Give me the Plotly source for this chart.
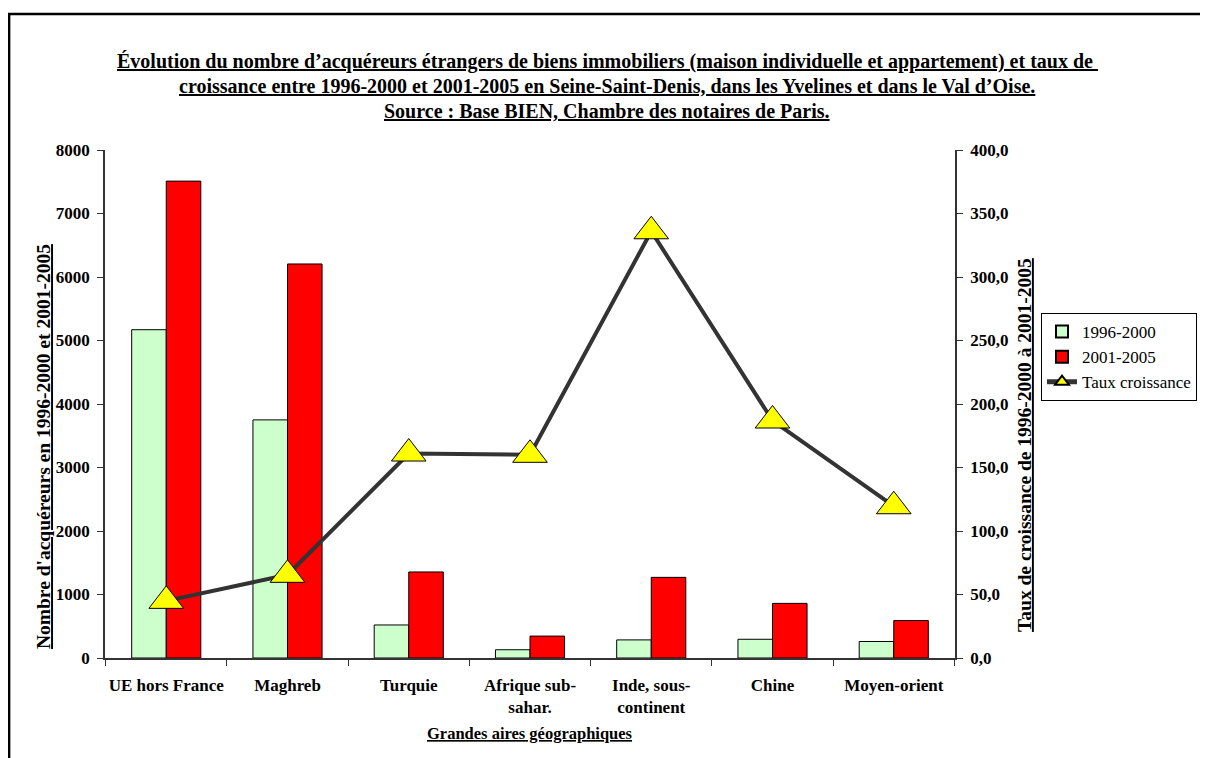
import plotly.graph_objects as go

# categories and values
categories = ["UE hors France", "Maghreb", "Turquie", "Afrique sub-<br>sahar.",
              "Inde, sous-<br>continent", "Chine", "Moyen-orient"]
acq_1996_2000 = [5170, 3750, 520, 130, 285, 295, 260]
acq_2001_2005 = [7510, 6205, 1355, 345, 1270, 860, 590]
taux_croissance = [45.0, 65.5, 161.0, 160.0, 336.0, 187.0, 119.5]

title_lines = [
    "Évolution du nombre d’acquéreurs étrangers de biens immobiliers (maison individuelle et appartement) et taux de ",
    "croissance entre 1996-2000 et 2001-2005 en Seine-Saint-Denis, dans les Yvelines et dans le Val d’Oise.",
    "Source : Base BIEN, Chambre des notaires de Paris.",
]

FONT = "Liberation Serif, Times New Roman, serif"

# plot area in screen pixels (page has an 8px body margin)
PL, PR, PT, PB = 105, 956, 150, 658


def px(x):
    return (x - PL) / (PR - PL)


def py(y):
    return (PB - y) / (PB - PT)


fig = go.Figure()

fig.add_trace(go.Bar(x=categories, y=acq_1996_2000, name="1996-2000",
                     marker=dict(color="#CCFFCC", line=dict(color="black", width=1))))
fig.add_trace(go.Bar(x=categories, y=acq_2001_2005, name="2001-2005",
                     marker=dict(color="#FF0000", line=dict(color="black", width=1))))
fig.add_trace(go.Scatter(x=categories, y=taux_croissance, name="Taux croissance",
                         yaxis="y2", mode="lines+markers",
                         line=dict(color="#333333", width=4),
                         marker=dict(symbol="triangle-up", size=30, color="#FFFF00",
                                     line=dict(color="black", width=1))))

# title lines and axis titles as annotations so they sit where Excel put them
annotations = []
for i, line in enumerate(title_lines):
    annotations.append(dict(text="<b><u>" + line + "</u></b>", xref="paper", yref="paper",
                            x=px(608), y=py(61 + 25 * i),
                            showarrow=False, font=dict(family=FONT, size=20, color="black"),
                            xanchor="center", yanchor="middle"))
annotations.append(dict(text="<b><u>Nombre d'acquéreurs en 1996-2000 et 2001-2005</u></b>",
                        xref="paper", yref="paper", x=px(43), y=py(447),
                        xanchor="center", yanchor="middle",
                        textangle=-90, showarrow=False, font=dict(family=FONT, size=19.5, color="black")))
annotations.append(dict(text="<b><u>Taux de croissance de 1996-2000 à 2001-2005</u></b>",
                        xref="paper", yref="paper", x=px(1025), y=py(445),
                        xanchor="center", yanchor="middle",
                        textangle=-90, showarrow=False, font=dict(family=FONT, size=19.5, color="black")))
annotations.append(dict(text="<b><u>Grandes aires géographiques</u></b>",
                        xref="paper", yref="paper", x=px(530), y=py(733),
                        xanchor="center", yanchor="middle",
                        showarrow=False, font=dict(family=FONT, size=16.5, color="black")))

fig.update_layout(
    width=1200, height=750,
    margin=dict(l=PL - 8, r=1208 - PR, t=PT - 8, b=758 - PB),
    paper_bgcolor="white", plot_bgcolor="white",
    separators=", ",
    barmode="group", bargap=0.43, bargroupgap=0,
    showlegend=True,
    legend=dict(x=px(1041), y=py(313), xanchor="left", yanchor="top",
                bordercolor="black", borderwidth=1, bgcolor="white",
                font=dict(family=FONT, size=17, color="black"),
                tracegroupgap=0, itemsizing="constant"),
    xaxis=dict(showline=True, linecolor="#333333", linewidth=1.5,
               ticks="outside", tickson="boundaries", ticklen=6, tickcolor="#333333",
               tickangle=0, automargin=False,
               tickfont=dict(family=FONT, size=17, color="black", weight="bold"),
               ticklabelstandoff=11,
               showgrid=False, zeroline=False),
    yaxis=dict(range=[0, 8000], dtick=1000, tickformat="d",
               showline=True, linecolor="#333333", linewidth=1.5,
               ticks="outside", ticklen=6, tickcolor="#333333",
               tickfont=dict(family=FONT, size=17, color="black", weight="bold"),
               ticklabelstandoff=4, automargin=False,
               showgrid=False, zeroline=False),
    yaxis2=dict(range=[0, 400], dtick=50, tickformat=".1f", overlaying="y", side="right",
                showline=True, linecolor="#333333", linewidth=1.5,
                ticks="outside", ticklen=6, tickcolor="#333333",
                tickfont=dict(family=FONT, size=17, color="black", weight="bold"),
                ticklabelstandoff=4, automargin=False,
                showgrid=False, zeroline=False),
    annotations=annotations,
    shapes=[dict(type="rect", xref="paper", yref="paper",
                 x0=px(9), x1=px(1220), y0=py(790), y1=py(14),
                 line=dict(color="black", width=2.5), layer="below")],
)

fig.write_html("out.html")
